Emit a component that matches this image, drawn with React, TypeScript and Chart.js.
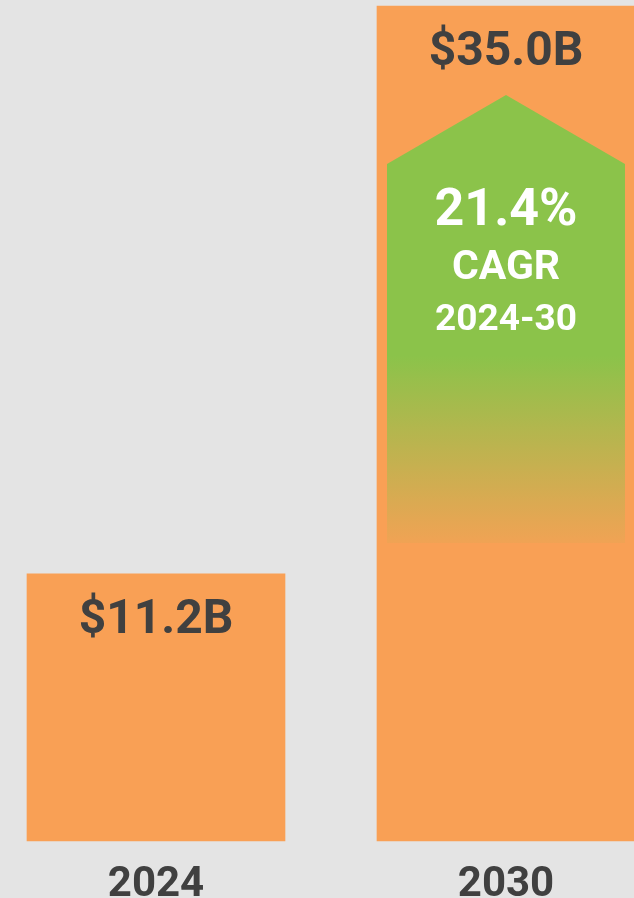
import React, { useEffect, useRef } from "react";
import { Chart, registerables } from "chart.js";

Chart.register(...registerables);

const categories: string[] = ["2024", "2030"];
const marketValues: number[] = [11.2, 35.0];
const valueLabels: string[] = ["$11.2B", "$35.0B"];
const cagrLines: string[] = ["21.4%", "CAGR", "2024-30"];

const ORANGE = "#F9A055";
const GREEN = "139,195,74";
const TEXT = "#404040";
const BG = "#E4E4E4";
const FONT = "Roboto, 'Noto Sans', sans-serif";

const overlayPlugin = {
  id: "overlay",
  afterDatasetsDraw(chart: any) {
    const ctx = chart.ctx as CanvasRenderingContext2D;
    const meta = chart.getDatasetMeta(0);
    ctx.save();
    meta.data.forEach((bar: any, i: number) => {
      ctx.font = `bold 48px ${FONT}`;
      ctx.fillStyle = TEXT;
      ctx.textAlign = "center";
      ctx.textBaseline = "alphabetic";
      ctx.fillText(valueLabels[i], bar.x, bar.y + 59);
    });
    const last = meta.data[meta.data.length - 1];
    const half = last.width / 2;
    const left = last.x - half + 10;
    const right = last.x + half - 10;
    const top = last.y;
    const apexY = top + 89;
    const shoulderY = top + 158;
    const solidY = top + 350;
    const bottomY = top + 537;
    const grad = ctx.createLinearGradient(0, apexY, 0, bottomY);
    const solidStop = (solidY - apexY) / (bottomY - apexY);
    grad.addColorStop(0, `rgba(${GREEN},1)`);
    grad.addColorStop(solidStop, `rgba(${GREEN},1)`);
    grad.addColorStop(1, `rgba(${GREEN},0.08)`);
    ctx.beginPath();
    ctx.moveTo(left, shoulderY);
    ctx.lineTo(last.x, apexY);
    ctx.lineTo(right, shoulderY);
    ctx.lineTo(right, bottomY);
    ctx.lineTo(left, bottomY);
    ctx.closePath();
    ctx.fillStyle = grad;
    ctx.fill();
    ctx.fillStyle = "#FFFFFF";
    ctx.textAlign = "center";
    ctx.font = `bold 52px ${FONT}`;
    ctx.fillText(cagrLines[0], last.x, top + 219);
    ctx.font = `bold 41px ${FONT}`;
    ctx.fillText(cagrLines[1], last.x, top + 273);
    ctx.font = `bold 37px ${FONT}`;
    ctx.fillText(cagrLines[2], last.x, top + 324);
    ctx.restore();
  },
};

export default function App() {
  const ref = useRef<HTMLCanvasElement | null>(null);
  useEffect(() => {
    if (!ref.current) return;
    const chart = new Chart(ref.current, {
      type: "bar",
      data: {
        labels: categories,
        datasets: [
          {
            data: marketValues,
            backgroundColor: ORANGE,
            borderWidth: 0,
            barThickness: 258,
            clip: false as any,
          },
        ],
      },
      options: {
        animation: false,
        responsive: false,
        maintainAspectRatio: false,
        layout: { padding: { left: 156, right: 128, top: 6, bottom: -31 } },
        plugins: { legend: { display: false }, tooltip: { enabled: false } },
        scales: {
          x: {
            offset: false,
            grid: { display: false, drawTicks: false, offset: false },
            border: { display: false },
            ticks: {
              color: TEXT,
              padding: 25,
              font: { family: FONT, size: 42, weight: "bold", lineHeight: "38px" as any },
            },
          },
          y: {
            display: false,
            min: 0,
            max: 35,
          },
        },
      },
      plugins: [overlayPlugin],
    });
    return () => chart.destroy();
  }, []);
  return (
    <div style={{ position: "fixed", left: 0, top: 0, width: 634, height: 898, background: BG, overflow: "hidden" }}>
      <canvas ref={ref} width={634} height={898} style={{ display: "block", width: 634, height: 898 }} />
    </div>
  );
}
